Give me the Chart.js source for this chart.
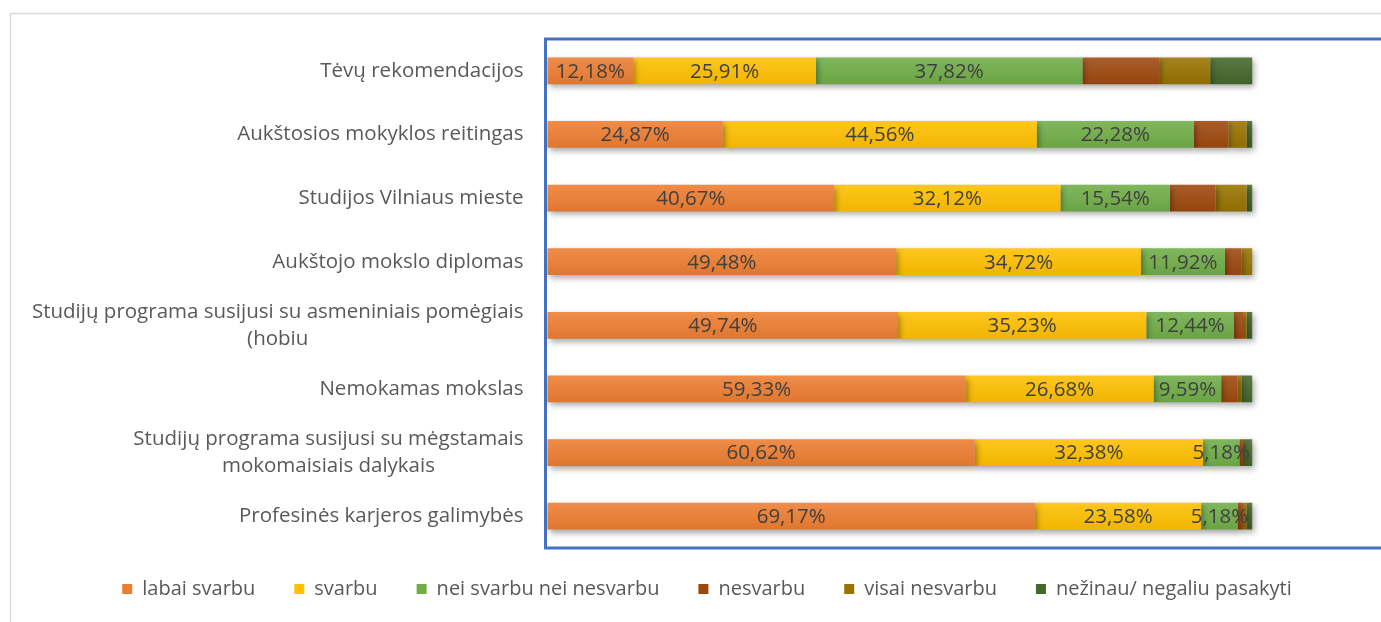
<!DOCTYPE html>
<html lang="lt">
<head>
<meta charset="utf-8">
<title>Pasirinkimo veiksniai</title>
<script src="https://cdn.jsdelivr.net/npm/chart.js@4.4.1/dist/chart.umd.min.js"></script>
<style>
  html, body { margin: 0; padding: 0; background: #fff; }
  #wrap { width: 1381px; height: 622px; position: relative; }
</style>
</head>
<body>
<div id="wrap"><canvas id="chart" width="1381" height="622"></canvas></div>
<script>
// kategorijos (is virsaus i apacia)
const categories = [
    'Tėvų rekomendacijos',
    'Aukštosios mokyklos reitingas',
    'Studijos Vilniaus mieste',
    'Aukštojo mokslo diplomas',
    ['Studijų programa susijusi su asmeniniais pomėgiais', '(hobiu'],
    'Nemokamas mokslas',
    ['Studijų programa susijusi su mėgstamais', 'mokomaisiais dalykais'],
    'Profesinės karjeros galimybės'
];

const series_names = ['labai svarbu', 'svarbu', 'nei svarbu nei nesvarbu', 'nesvarbu', 'visai nesvarbu', 'nežinau/ negaliu pasakyti'];

// procentai
const labai_svarbu = [12.18, 24.87, 40.67, 49.48, 49.74, 59.33, 60.62, 69.17];
const svarbu       = [25.91, 44.56, 32.12, 34.72, 35.23, 26.68, 32.38, 23.58];
const nei_nei      = [37.82, 22.28, 15.54, 11.92, 12.44, 9.59, 5.18, 5.18];
const nesvarbu     = [10.88, 4.92, 6.48, 2.33, 1.29, 2.33, 0.52, 0.78];
const visai_nesv   = [7.25, 2.59, 4.40, 1.55, 0.52, 0.52, 0, 0.52];
const nezinau      = [5.96, 0.78, 0.79, 0, 0.78, 1.55, 1.30, 0.77];

// x asis: 100% baigiasi ties ~1252px, braizymo sritis eina toliau
const x_max = 112.6;

const colors = ['#ED7D31', '#FFC000', '#70AD47', '#9E480E', '#997300', '#43682B'];
const labeled = [0, 1, 2]; // tik pirmos trys serijos turi etiketes
const FONT = '20.5px "Open Sans"';

function shade(hex, amt) {
    let r = parseInt(hex.slice(1, 3), 16), g = parseInt(hex.slice(3, 5), 16), b = parseInt(hex.slice(5, 7), 16);
    const t = amt > 0 ? 255 : 0, p = Math.abs(amt);
    r = Math.round(r + (t - r) * p); g = Math.round(g + (t - g) * p); b = Math.round(b + (t - b) * p);
    return 'rgb(' + r + ',' + g + ',' + b + ')';
}

function barFill(context, hex) {
    if (context.type !== 'data') return hex;
    const ys = context.chart.scales.y;
    if (!ys) return hex;
    const cy = ys.getPixelForValue(context.dataIndex);
    if (!isFinite(cy)) return hex;
    const g = context.chart.ctx.createLinearGradient(0, cy - 14, 0, cy + 14);
    g.addColorStop(0, shade(hex, 0.12));
    g.addColorStop(1, shade(hex, -0.06));
    return g;
}

const all_values = [labai_svarbu, svarbu, nei_nei, nesvarbu, visai_nesv, nezinau];

let datasets = [];
for (let i = 0; i < all_values.length; i++) {
    datasets.push({
        label: series_names[i],
        data: all_values[i],
        backgroundColor: (c) => barFill(c, colors[i]),
        borderWidth: 0,
        categoryPercentage: 1,
        barPercentage: 0.42,
        clip: 10
    });
}

const fmt = v => v.toFixed(2).replace('.', ',') + '%';

// remeliai: pilkas isorinis ir melynas aplink braizymo sriti
const frames = {
    id: 'frames',
    afterLayout(chart) {
        // legenda truputi arciau grafiko
        chart.legend.top -= 8;
        chart.legend.bottom -= 8;
    },
    beforeDraw(chart) {
        const c = chart.ctx, a = chart.chartArea;
        c.save();
        c.strokeStyle = '#d9d9d9';
        c.lineWidth = 1.5;
        c.beginPath();
        c.moveTo(10.5, chart.height + 5);
        c.lineTo(10.5, 13.5);
        c.lineTo(chart.width + 5, 13.5);
        c.stroke();
        c.strokeStyle = '#4472C4';
        c.lineWidth = 3;
        c.beginPath();
        c.moveTo(chart.width + 5, a.top);
        c.lineTo(a.left - 2, a.top);
        c.lineTo(a.left - 2, a.bottom);
        c.lineTo(chart.width + 5, a.bottom);
        c.stroke();
        c.restore();
    }
};

// seselis ir reiksmiu etiketes
const barDecor = {
    id: 'barDecor',
    beforeDatasetsDraw(chart) {
        const c = chart.ctx;
        c.save();
        c.shadowColor = 'rgba(0,0,0,0.35)';
        c.shadowBlur = 6;
        c.shadowOffsetX = 2;
        c.shadowOffsetY = 3;
    },
    afterDatasetsDraw(chart) {
        const c = chart.ctx;
        c.restore();
        c.save();
        c.font = FONT;
        c.fillStyle = '#404040';
        c.textAlign = 'center';
        c.textBaseline = 'middle';
        labeled.forEach(di => {
            const meta = chart.getDatasetMeta(di);
            meta.data.forEach((bar, j) => {
                const v = chart.data.datasets[di].data[j];
                if (!v) return;
                const x = (bar.x + bar.base) / 2;
                c.fillText(fmt(v), x, bar.y + 1);
            });
        });
        c.restore();
    }
};

// kategoriju pavadinimai, eilutes centruotos
const categoryLabels = {
    id: 'categoryLabels',
    afterDraw(chart) {
        const c = chart.ctx, ys = chart.scales.y;
        c.save();
        c.font = FONT;
        c.fillStyle = '#595959';
        c.textAlign = 'center';
        c.textBaseline = 'middle';
        chart.data.labels.forEach((lab, i) => {
            const lines = [].concat(lab);
            const w = Math.max(...lines.map(l => c.measureText(l).width));
            const cx = chart.chartArea.left - 24 - w / 2;
            const cy = ys.getPixelForValue(i);
            lines.forEach((l, k) => {
                c.fillText(l, cx, cy + (k - (lines.length - 1) / 2) * 27);
            });
        });
        c.restore();
    }
};

new Chart(document.getElementById('chart'), {
    type: 'bar',
    data: { labels: categories, datasets: datasets },
    options: {
        indexAxis: 'y',
        responsive: false,
        animation: false,
        layout: { padding: { left: 73, right: 40, top: 39, bottom: 5 } },
        scales: {
            x: { stacked: true, min: 0, max: x_max, display: false },
            y: {
                stacked: true,
                grid: { display: false },
                border: { display: false },
                ticks: { display: false },
                afterFit: (s) => { s.width = 474.5; }
            }
        },
        plugins: {
            legend: {
                position: 'bottom',
                labels: {
                    boxWidth: 10,
                    boxHeight: 10,
                    padding: 39,
                    color: '#595959',
                    font: { family: 'Open Sans', size: 20 },
                    generateLabels: (chart) => chart.data.datasets.map((d, i) => ({
                        text: d.label,
                        fillStyle: colors[i],
                        strokeStyle: colors[i],
                        lineWidth: 0,
                        fontColor: '#595959',
                        datasetIndex: i
                    }))
                }
            },
            tooltip: { enabled: false }
        }
    },
    plugins: [frames, barDecor, categoryLabels]
});
</script>
</body>
</html>
